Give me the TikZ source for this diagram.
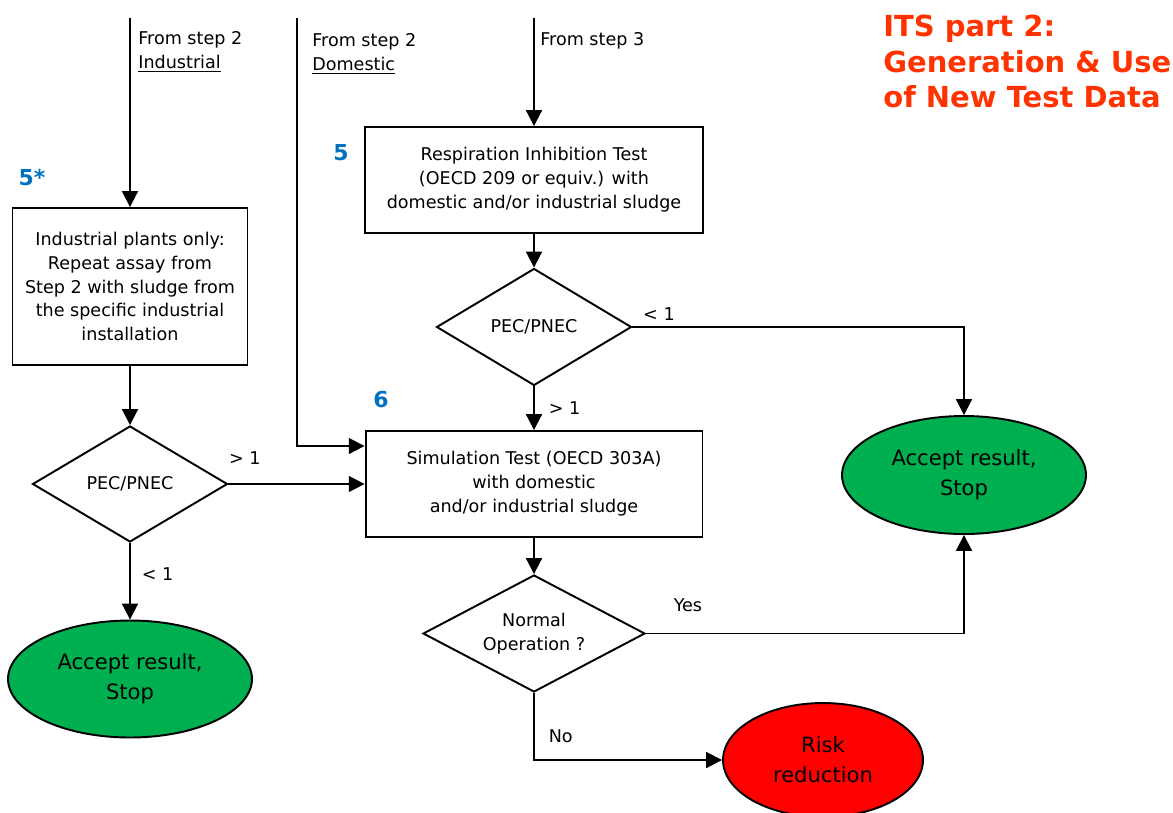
\documentclass[tikz,border=0pt]{standalone}
\usepackage{fontspec}
\setmainfont{DejaVu Sans}
\usetikzlibrary{shapes,arrows.meta,positioning,calc}
\definecolor{stepblue}{HTML}{0070C0}
\definecolor{okgreen}{HTML}{00B050}
\definecolor{titleorange}{HTML}{FF3300}

\begin{document}
\begin{tikzpicture}[x=0.02cm, y=-0.02cm]

\useasboundingbox (0,0) rectangle (1173,812);

% Define styles
\tikzstyle{testbox} = [rectangle, draw=black, line width=1.1pt, align=center, inner sep=0pt, font=\fontsize{10}{13.6}\selectfont]
\tikzstyle{decision} = [diamond, draw=black, line width=1.1pt, align=center, inner sep=0pt, shape aspect=1.8, font=\fontsize{10}{13.6}\selectfont]
\tikzstyle{stopper} = [ellipse, draw=black, line width=1.1pt, align=center, inner sep=0pt, font=\fontsize{12}{17}\selectfont]
\tikzstyle{arrow} = [line width=1.1pt, -{Triangle[length=9pt, width=9pt]}]
\tikzstyle{lbl} = [font=\fontsize{10}{13.6}\selectfont]
\tikzstyle{stepnum} = [text=stepblue, font=\fontsize{12.5}{15}\selectfont\bfseries]

% Title
\node (title) [anchor=north west, inner sep=0pt, align=left, text=titleorange, font=\fontsize{16.5}{20}\selectfont\bfseries] at (883,15) {ITS part 2:\\Generation \& Use\\of New Test Data};

% Test boxes
\node (plant) [testbox, minimum width=4.7cm, minimum height=3.14cm] at (130,286.5) {Industrial plants only:\\Repeat assay from\\Step 2 with sludge from\\the specific industrial\\installation};
\node (resp) [testbox, minimum width=6.76cm, minimum height=2.12cm] at (534,180) {Respiration Inhibition Test\\(OECD 209 or equiv.) with\\domestic and/or industrial sludge};
\node (sim) [testbox, minimum width=6.74cm, minimum height=2.12cm] at (534,484) {Simulation Test (OECD 303A)\\with domestic\\and/or industrial sludge};

% Decisions
\node (pecR) [decision, minimum width=3.9cm, minimum height=2.34cm] at (534,327) {PEC/PNEC};
\node (pecL) [decision, minimum width=3.9cm, minimum height=2.32cm] at (130,484) {PEC/PNEC};
\node (normal) [decision, minimum width=4.44cm, minimum height=2.34cm] at (534,633.5) {Normal\\Operation ?};

% End points
\node (acceptL) [stopper, fill=okgreen, minimum width=4.88cm, minimum height=2.34cm] at (130,679) {Accept result,\\Stop};
\node (acceptR) [stopper, fill=okgreen, minimum width=4.88cm, minimum height=2.36cm] at (964,475) {Accept result,\\Stop};
\node (risk) [stopper, fill=red, minimum width=4cm, minimum height=2.28cm] at (823,760) {Risk\\reduction};

% Step numbers
\node (num5s) [stepnum] at (32,177) {5*};
\node (num5) [stepnum] at (341,153) {5};
\node (num6) [stepnum] at (381,400) {6};

% Inputs from earlier steps
\coordinate (fromind) at (130,18);
\coordinate (fromdom) at (297,18);
\coordinate (fromstep3) at (534,18);
\draw [arrow] (fromind) -- (plant.north);
\draw [arrow] (fromdom) |- ($(sim.west)+(0,-38)$);
\draw [arrow] (fromstep3) -- (resp.north);
\node (indlabel) [lbl, anchor=north west, inner sep=0pt, align=left] at (138,31) {From step 2\\\underline{Industrial}};
\node (domlabel) [lbl, anchor=north west, inner sep=0pt, align=left] at (312,33) {From step 2\\\underline{Domestic}};
\node (step3label) [lbl, anchor=north west, inner sep=0pt] at (540,32) {From step 3};

% Industrial branch
\draw [arrow] (plant.south) -- (pecL.north);
\draw [arrow] (pecL.east) -- node[lbl, pos=0.12, above=0.26cm] {> 1} (sim.west);
\draw [arrow] (pecL.south) -- node[lbl, pos=0.4, right=0.1cm] {< 1} (acceptL.north);

% Respiration branch
\draw [arrow] (resp.south) -- (pecR.north);
\draw [arrow] (pecR.south) -- node[lbl, midway, right=0.16cm] {> 1} (sim.north);
\draw [arrow] (pecR.east) -| node[lbl, pos=0.04, above] {< 1} (acceptR.north);

% Simulation outcome
\draw [arrow] (sim.south) -- (normal.north);
\draw [arrow] (normal.east) -| node[lbl, pos=0.066, above=0.3cm] {Yes} (acceptR.south);
\draw [arrow] (normal.south) |- node[lbl, pos=0.32, right=0.16cm] {No} (risk.west);

\end{tikzpicture}
\end{document}
